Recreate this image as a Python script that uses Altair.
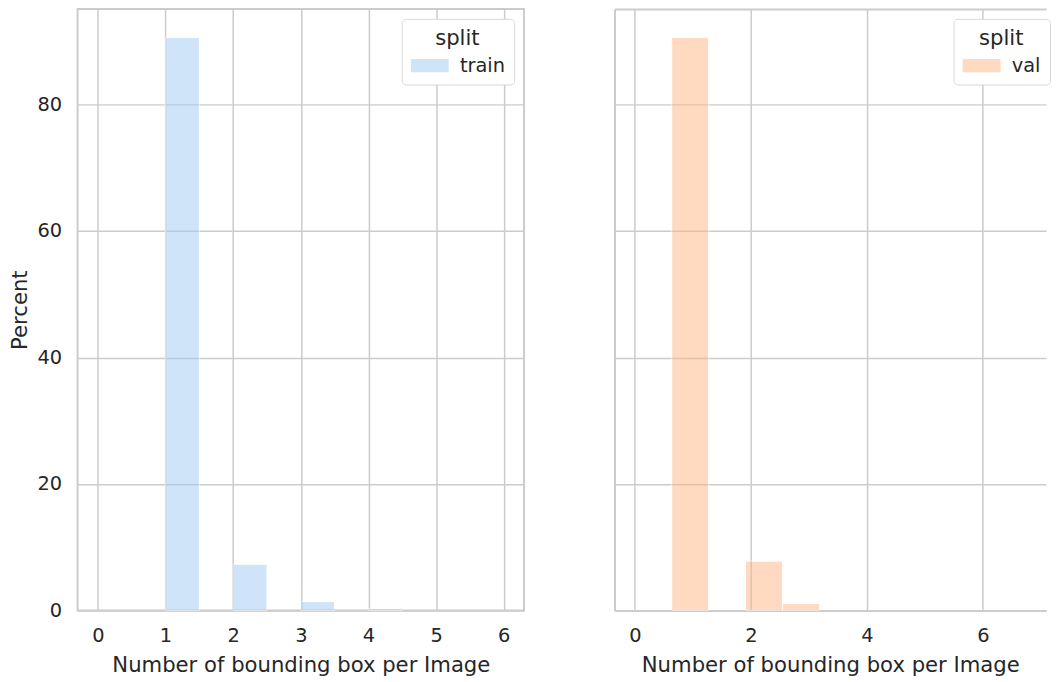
import altair as alt
import pandas as pd

# ---- data ----
train_bin_start = [1.0, 2.0, 3.0, 4.0]
train_bin_end = [1.5, 2.5, 3.5, 4.5]
train_percent = [90.6, 7.3, 1.4, 0.3]

val_bin_start = [0.636, 1.909, 2.545]
val_bin_end = [1.273, 2.545, 3.182]
val_percent = [90.6, 7.8, 1.1]

train_df = pd.DataFrame({"start": train_bin_start, "end": train_bin_end,
                         "percent": train_percent, "split": "train"})
val_df = pd.DataFrame({"start": val_bin_start, "end": val_bin_end,
                       "percent": val_percent, "split": "val"})

FONT = "DejaVu Sans"
TXT = "#262626"
GRID = "#cccccc"
YDOM = [0, 95.1]
XTITLE = "Number of bounding box per Image"

# wide rectangle, drawn from the entry's left edge
legend_shape = "M-1,-0.7H3V0.7H-1Z"

# ---- left panel ----
left = alt.Chart(train_df).mark_bar(opacity=0.5, stroke="white", strokeWidth=1).encode(
    x=alt.X("start:Q", title=XTITLE,
            scale=alt.Scale(domain=[-0.3, 6.3], nice=False, zero=False),
            axis=alt.Axis(values=[0, 1, 2, 3, 4, 5, 6], format="d")),
    x2="end:Q",
    y=alt.Y("percent:Q", title="Percent",
            scale=alt.Scale(domain=YDOM, nice=False),
            axis=alt.Axis(values=[0, 20, 40, 60, 80], labelPadding=16, titlePadding=7)),
    y2=alt.datum(0),
    color=alt.Color("split:N", scale=alt.Scale(domain=["train"], range=["#a1c9f4"]),
                    legend=alt.Legend(title="split")),
).properties(width=449, height=605)

# ---- right panel ----
right_bars = alt.Chart(val_df).mark_bar(opacity=0.5, stroke="white", strokeWidth=1).encode(
    x=alt.X("start:Q", title=XTITLE,
            scale=alt.Scale(domain=[-0.35, 7.09], nice=False, zero=False),
            axis=alt.Axis(values=[0, 2, 4, 6], format="d", domain=True,
                          domainColor=GRID, domainWidth=2)),
    x2="end:Q",
    y=alt.Y("percent:Q", title=None,
            scale=alt.Scale(domain=YDOM, nice=False),
            axis=alt.Axis(values=[0, 20, 40, 60, 80], labels=False, domain=True,
                          domainColor=GRID, domainWidth=2)),
    y2=alt.datum(0),
    color=alt.Color("split:N", scale=alt.Scale(domain=["val"], range=["#ffb482"]),
                    legend=alt.Legend(title="split", orient="none",
                                      legendX=341, legendY=10)),
)
right_top = alt.Chart(val_df).mark_bar(opacity=0).encode(
    x=alt.X("start:Q", scale=alt.Scale(domain=[-0.35, 7.09], nice=False, zero=False),
            axis=alt.Axis(orient="top", labels=False, grid=False, title=None,
                          domain=True, domainColor=GRID, domainWidth=2,
                          minExtent=0, maxExtent=0)),
    x2="end:Q",
    y=alt.Y("percent:Q", scale=alt.Scale(domain=YDOM, nice=False)),
    y2=alt.datum(0),
)
right = alt.layer(right_bars, right_top).resolve_axis(x="independent").properties(
    width=434, height=605, view=alt.ViewBackground(strokeOpacity=0))

chart = alt.hconcat(left, right, spacing=90).resolve_scale(
    color="independent", x="independent"
).resolve_legend(color="independent").properties(
    padding={"left": 0, "top": -2, "right": 0, "bottom": 0}
).configure_view(
    stroke=GRID, strokeWidth=2
).configure_axis(
    labelFont=FONT, titleFont=FONT, labelFontSize=19.5, titleFontSize=21.3,
    labelColor=TXT, titleColor=TXT, titleFontWeight="normal",
    gridColor=GRID, gridWidth=1.5, ticks=False, domain=False,
).configure_axisX(
    labelPadding=16, titlePadding=10,
).configure_legend(
    orient="top-right", offset=10, fillColor="white", strokeColor="#d9d9d9",
    cornerRadius=4, padding=9, titleFont=FONT, labelFont=FONT,
    titleFontSize=21.3, labelFontSize=19.5, titleFontWeight="normal",
    titleColor=TXT, labelColor=TXT, titleAnchor="middle", titlePadding=7,
    symbolType=legend_shape, symbolSize=361, symbolStrokeWidth=0,
    symbolOpacity=0.5, labelOffset=30,
)

chart.save("out.html", embed_options={"renderer": "svg", "actions": False})
